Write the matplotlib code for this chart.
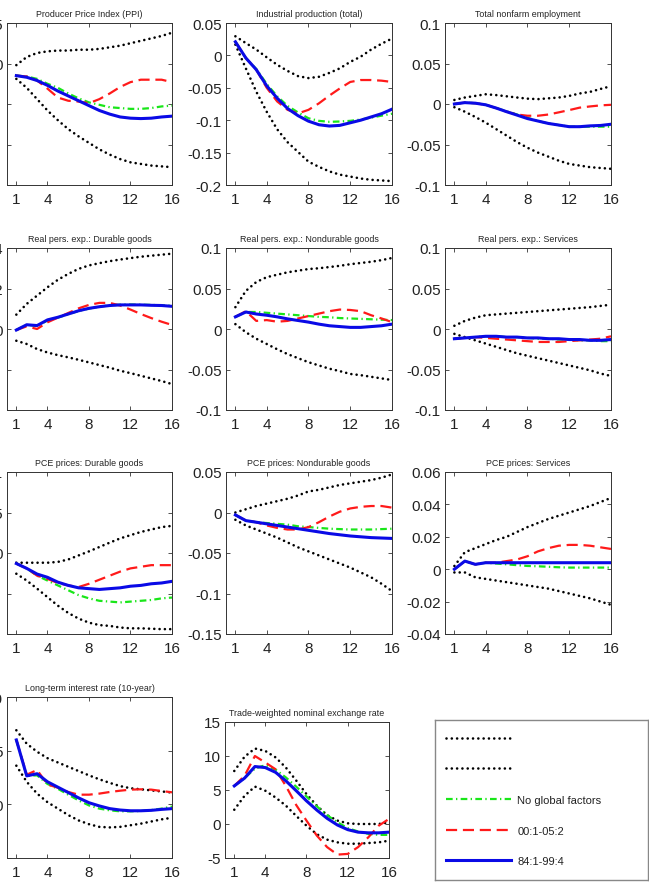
"""Impulse responses to a monetary shock: bands and three sample/model variants."""

import matplotlib
matplotlib.use("Agg")
import matplotlib.pyplot as plt
from matplotlib.ticker import FixedLocator, FixedFormatter

plt.rcParams["font.family"] = ["Liberation Sans", "DejaVu Sans"]
plt.rcParams["axes.unicode_minus"] = False

H = list(range(1, 17))
XTICKS = [1, 4, 8, 12, 16]

# Producer Price Index (PPI)
ppi_up = [-0.002, 0.008, 0.013, 0.015, 0.016, 0.016, 0.017, 0.017, 0.018, 0.020, 0.022, 0.025, 0.028, 0.031, 0.034, 0.038]
ppi_lo = [-0.019, -0.030, -0.044, -0.058, -0.070, -0.081, -0.090, -0.098, -0.106, -0.1125, -0.118, -0.122, -0.124, -0.126, -0.127, -0.128]
ppi_nogf = [-0.015, -0.016, -0.019, -0.025, -0.030, -0.037, -0.043, -0.048, -0.051, -0.054, -0.055, -0.056, -0.056, -0.055, -0.053, -0.052]
ppi_0005 = [-0.015, -0.016, -0.021, -0.031, -0.042, -0.046, -0.047, -0.049, -0.044, -0.037, -0.029, -0.023, -0.020, -0.020, -0.020, -0.023]
ppi_8499 = [-0.015, -0.017, -0.021, -0.027, -0.034, -0.040, -0.046, -0.052, -0.058, -0.0625, -0.066, -0.0675, -0.068, -0.0675, -0.066, -0.065]

# Industrial production (total)
ip_up = [0.0295, 0.019, 0.009, -0.003, -0.0145, -0.024, -0.032, -0.035, -0.033, -0.027, -0.020, -0.010, -0.002, 0.009, 0.018, 0.026]
ip_lo = [0.0166, -0.020, -0.056, -0.087, -0.114, -0.134, -0.149, -0.164, -0.172, -0.179, -0.184, -0.187, -0.190, -0.192, -0.193, -0.194]
ip_nogf = [0.021, -0.004, -0.021, -0.044, -0.063, -0.078, -0.088, -0.097, -0.101, -0.1025, -0.102, -0.101, -0.099, -0.096, -0.093, -0.090]
ip_0005 = [0.021, -0.004, -0.022, -0.050, -0.071, -0.084, -0.0895, -0.084, -0.074, -0.062, -0.051, -0.041, -0.038, -0.038, -0.039, -0.041]
ip_8499 = [0.021, -0.004, -0.022, -0.047, -0.066, -0.082, -0.093, -0.1015, -0.107, -0.109, -0.108, -0.104, -0.100, -0.095, -0.090, -0.083]

# Total nonfarm employment
emp_up = [0.005, 0.008, 0.010, 0.012, 0.011, 0.0095, 0.008, 0.0066, 0.006, 0.007, 0.008, 0.010, 0.013, 0.015, 0.0186, 0.022]
emp_lo = [-0.004, -0.0095, -0.016, -0.023, -0.031, -0.039, -0.047, -0.054, -0.060, -0.065, -0.070, -0.074, -0.076, -0.078, -0.079, -0.080]
emp_nogf = [0.0, 0.0017, 0.001, -0.001, -0.005, -0.009, -0.013, -0.017, -0.021, -0.024, -0.026, -0.028, -0.028, -0.028, -0.028, -0.028]
emp_0005 = [0.0, 0.0017, 0.001, -0.001, -0.005, -0.0095, -0.013, -0.0145, -0.0145, -0.013, -0.0103, -0.0075, -0.0045, -0.003, -0.0017, -0.001]
emp_8499 = [0.0, 0.0017, 0.001, -0.001, -0.005, -0.0095, -0.0137, -0.018, -0.021, -0.024, -0.026, -0.028, -0.028, -0.027, -0.0265, -0.025]

# Real pers. exp.: Durable goods
rdur_up = [0.0071, 0.0124, 0.0165, 0.0206, 0.0243, 0.0272, 0.0297, 0.0314, 0.0325, 0.0335, 0.0343, 0.035, 0.0357, 0.0362, 0.0367, 0.0372]
rdur_lo = [-0.0058, -0.0074, -0.0099, -0.0116, -0.0129, -0.014, -0.0152, -0.0165, -0.0178, -0.0191, -0.0206, -0.0218, -0.0231, -0.0244, -0.0257, -0.0272]
rdur_nogf = [-0.0005, 0.0021, 0.0015, 0.0042, 0.0056, 0.0073, 0.0089, 0.0101, 0.0110, 0.0117, 0.0120, 0.0121, 0.0120, 0.0119, 0.0117, 0.0115]
rdur_0005 = [-0.0005, 0.0013, 0.0, 0.0033, 0.0056, 0.0079, 0.0102, 0.0119, 0.0129, 0.0129, 0.0116, 0.0096, 0.0074, 0.0054, 0.0036, 0.002]
rdur_8499 = [-0.0005, 0.0021, 0.0017, 0.0045, 0.0058, 0.0074, 0.009, 0.0102, 0.011, 0.0116, 0.0119, 0.0119, 0.0119, 0.0117, 0.0116, 0.0112]

# Real pers. exp.: Nondurable goods
rnd_up = [0.027, 0.047, 0.058, 0.064, 0.067, 0.070, 0.072, 0.074, 0.075, 0.0765, 0.078, 0.080, 0.0815, 0.083, 0.085, 0.0877]
rnd_lo = [0.006, -0.004, -0.012, -0.0185, -0.025, -0.031, -0.036, -0.041, -0.045, -0.049, -0.052, -0.0555, -0.057, -0.059, -0.061, -0.063]
rnd_nogf = [0.015, 0.021, 0.021, 0.020, 0.019, 0.018, 0.017, 0.016, 0.015, 0.0145, 0.0135, 0.013, 0.0125, 0.012, 0.0115, 0.011]
rnd_0005 = [0.015, 0.022, 0.010, 0.011, 0.009, 0.010, 0.013, 0.016, 0.019, 0.022, 0.024, 0.0235, 0.022, 0.017, 0.013, 0.0085]
rnd_8499 = [0.015, 0.021, 0.0185, 0.017, 0.015, 0.0125, 0.0105, 0.0085, 0.006, 0.004, 0.003, 0.002, 0.002, 0.003, 0.004, 0.006]

# Real pers. exp.: Services
rsv_up = [0.004, 0.010, 0.014, 0.017, 0.018, 0.019, 0.020, 0.021, 0.022, 0.023, 0.024, 0.025, 0.026, 0.027, 0.0285, 0.030]
rsv_lo = [-0.006, -0.010, -0.014, -0.018, -0.022, -0.026, -0.030, -0.033, -0.036, -0.039, -0.042, -0.045, -0.048, -0.051, -0.055, -0.058]
rsv_nogf = [-0.012, -0.011, -0.010, -0.009, -0.009, -0.010, -0.010, -0.011, -0.012, -0.012, -0.013, -0.013, -0.014, -0.014, -0.015, -0.015]
rsv_0005 = [-0.012, -0.011, -0.010, -0.011, -0.012, -0.013, -0.014, -0.015, -0.016, -0.016, -0.016, -0.015, -0.014, -0.013, -0.012, -0.009]
rsv_8499 = [-0.012, -0.011, -0.010, -0.009, -0.009, -0.010, -0.010, -0.011, -0.011, -0.012, -0.012, -0.013, -0.013, -0.014, -0.014, -0.013]

# PCE prices: Durable goods
pdur_up = [-0.012, -0.012, -0.012, -0.012, -0.011, -0.008, -0.003, 0.002, 0.0074, 0.0128, 0.018, 0.022, 0.026, 0.029, 0.032, 0.0335]
pdur_lo = [-0.0256, -0.034, -0.044, -0.0545, -0.065, -0.074, -0.081, -0.086, -0.089, -0.090, -0.092, -0.093, -0.093, -0.0935, -0.094, -0.094]
pdur_nogf = [-0.013, -0.019, -0.028, -0.034, -0.040, -0.046, -0.052, -0.056, -0.059, -0.060, -0.061, -0.060, -0.059, -0.058, -0.056, -0.055]
pdur_0005 = [-0.013, -0.019, -0.028, -0.032, -0.037, -0.040, -0.042, -0.038, -0.033, -0.028, -0.023, -0.019, -0.017, -0.015, -0.015, -0.015]
pdur_8499 = [-0.013, -0.019, -0.026, -0.030, -0.036, -0.040, -0.043, -0.044, -0.045, -0.044, -0.043, -0.041, -0.040, -0.038, -0.037, -0.035]

# PCE prices: Nondurable goods
pnd_up = [0.0, 0.004, 0.008, 0.011, 0.014, 0.017, 0.021, 0.026, 0.028, 0.031, 0.034, 0.036, 0.038, 0.040, 0.043, 0.047]
pnd_lo = [-0.009, -0.016, -0.021, -0.026, -0.031, -0.037, -0.043, -0.048, -0.053, -0.058, -0.063, -0.068, -0.074, -0.080, -0.088, -0.097]
pnd_nogf = [-0.003, -0.010, -0.012, -0.013, -0.014, -0.015, -0.017, -0.018, -0.019, -0.020, -0.0205, -0.021, -0.021, -0.021, -0.0205, -0.020]
pnd_0005 = [-0.003, -0.010, -0.012, -0.016, -0.019, -0.021, -0.021, -0.018, -0.012, -0.005, 0.001, 0.005, 0.007, 0.008, 0.008, 0.006]
pnd_8499 = [-0.003, -0.010, -0.012, -0.014, -0.016, -0.018, -0.020, -0.022, -0.024, -0.026, -0.0275, -0.029, -0.030, -0.031, -0.0315, -0.032]

# PCE prices: Services
psv_up = [0.002, 0.0105, 0.013, 0.0155, 0.018, 0.020, 0.023, 0.026, 0.0285, 0.031, 0.033, 0.035, 0.037, 0.039, 0.0415, 0.044]
psv_lo = [-0.002, -0.002, -0.005, -0.006, -0.007, -0.008, -0.009, -0.010, -0.011, -0.012, -0.0135, -0.015, -0.0165, -0.018, -0.020, -0.022]
psv_nogf = [0.0, 0.005, 0.003, 0.004, 0.0035, 0.003, 0.0025, 0.002, 0.0018, 0.0015, 0.0012, 0.001, 0.001, 0.001, 0.001, 0.001]
psv_0005 = [0.0, 0.005, 0.003, 0.004, 0.004, 0.005, 0.006, 0.008, 0.011, 0.013, 0.0145, 0.015, 0.015, 0.0145, 0.0135, 0.0125]
psv_8499 = [0.0, 0.005, 0.003, 0.004, 0.004, 0.004, 0.004, 0.004, 0.004, 0.004, 0.004, 0.004, 0.004, 0.004, 0.004, 0.004]

# Long-term interest rate (10-year)
ltr_up = [6.9, 5.65, 4.9, 4.3, 3.9, 3.5, 3.1, 2.7, 2.33, 2.0, 1.7, 1.5, 1.4, 1.3, 1.2, 1.1]
ltr_lo = [3.6, 2.1, 1.0, 0.2, -0.4, -1.0, -1.5, -1.85, -2.1, -2.15, -2.1, -1.95, -1.8, -1.6, -1.4, -1.25]
ltr_nogf = [6.0, 2.65, 2.7, 1.9, 1.45, 0.9, 0.37, -0.1, -0.4, -0.56, -0.65, -0.65, -0.62, -0.53, -0.4, -0.2]
ltr_0005 = [6.0, 2.76, 3.2, 1.85, 1.55, 1.15, 0.9, 0.9, 1.0, 1.15, 1.27, 1.37, 1.4, 1.37, 1.24, 1.12]
ltr_8499 = [6.0, 2.65, 2.85, 2.1, 1.6, 1.1, 0.6, 0.15, -0.15, -0.4, -0.53, -0.6, -0.6, -0.56, -0.47, -0.4]

# Trade-weighted nominal exchange rate
fx_up = [7.8, 9.9, 11.1, 10.75, 9.8, 8.3, 6.4, 4.4, 2.7, 1.3, 0.5, 0.1, 0.0, 0.0, 0.0, 0.25]
fx_lo = [2.1, 4.15, 5.5, 4.9, 3.9, 2.7, 1.2, -0.25, -1.5, -2.3, -2.7, -2.9, -2.9, -2.8, -2.7, -2.45]
fx_nogf = [5.6, 6.75, 8.15, 8.65, 8.0, 6.85, 5.5, 4.05, 2.6, 1.3, 0.25, -0.6, -1.1, -1.45, -1.6, -1.6]
fx_0005 = [5.6, 7.1, 10.0, 9.05, 8.05, 5.6, 2.8, 0.5, -1.7, -3.4, -4.5, -4.4, -3.4, -1.95, -0.25, 0.75]
fx_8499 = [5.6, 6.75, 8.45, 8.3, 7.6, 6.35, 4.9, 3.4, 2.05, 0.83, -0.15, -0.83, -1.2, -1.3, -1.3, -1.2]

SERIES_LABELS = ["", "", "No global factors", "00:1-05:2", "84:1-99:4"]

# title, data, y ticks, y tick labels (None -> all), pixel box (left, top, w, h)
PANELS = [
    ("Producer Price Index (PPI)", (ppi_up, ppi_lo, ppi_nogf, ppi_0005, ppi_8499),
     [-0.15, -0.1, -0.05, 0, 0.05], ["", "", "", "0", "0.05"], (7, 24, 165, 162)),
    ("Industrial production (total)", (ip_up, ip_lo, ip_nogf, ip_0005, ip_8499),
     [-0.2, -0.15, -0.1, -0.05, 0, 0.05], None, (226, 24, 166, 162)),
    ("Total nonfarm employment", (emp_up, emp_lo, emp_nogf, emp_0005, emp_8499),
     [-0.1, -0.05, 0, 0.05, 0.1], None, (445, 24, 166, 162)),
    ("Real pers. exp.: Durable goods", (rdur_up, rdur_lo, rdur_nogf, rdur_0005, rdur_8499),
     [-0.04, -0.02, 0, 0.02, 0.04], ["", "", "0", "0.02", "0.04"], (7, 249, 165, 162)),
    ("Real pers. exp.: Nondurable goods", (rnd_up, rnd_lo, rnd_nogf, rnd_0005, rnd_8499),
     [-0.1, -0.05, 0, 0.05, 0.1], None, (226, 249, 166, 162)),
    ("Real pers. exp.: Services", (rsv_up, rsv_lo, rsv_nogf, rsv_0005, rsv_8499),
     [-0.1, -0.05, 0, 0.05, 0.1], None, (445, 249, 166, 162)),
    ("PCE prices: Durable goods", (pdur_up, pdur_lo, pdur_nogf, pdur_0005, pdur_8499),
     [-0.1, -0.05, 0, 0.05, 0.1], ["", "", "0", "0.05", "0.1"], (7, 473, 165, 162)),
    ("PCE prices: Nondurable goods", (pnd_up, pnd_lo, pnd_nogf, pnd_0005, pnd_8499),
     [-0.15, -0.1, -0.05, 0, 0.05], None, (226, 473, 166, 162)),
    ("PCE prices: Services", (psv_up, psv_lo, psv_nogf, psv_0005, psv_8499),
     [-0.04, -0.02, 0, 0.02, 0.04, 0.06], None, (445, 473, 166, 162)),
    ("Long-term interest rate (10-year)", (ltr_up, ltr_lo, ltr_nogf, ltr_0005, ltr_8499),
     [-5, 0, 5, 10], ["", "0", "5", "10"], (7, 698, 165, 161)),
    ("Trade-weighted nominal exchange rate", (fx_up, fx_lo, fx_nogf, fx_0005, fx_8499),
     [-5, 0, 5, 10, 15], None, (225, 723, 164, 136)),
]

STYLES = [
    dict(color="black", lw=1.9, linestyle=(0, (0.01, 2.0)), dash_capstyle="round"),
    dict(color="black", lw=1.9, linestyle=(0, (0.01, 2.0)), dash_capstyle="round"),
    dict(color="#19e619", lw=1.6, linestyle=(0, (3.0, 1.5, 0.6, 1.5))),
    dict(color="#ff1a1a", lw=1.6, linestyle=(0, (5.0, 2.6))),
    dict(color="#0a0ae6", lw=2.2, linestyle="-"),
]

W, HGT = 649, 895
fig = plt.figure(figsize=(W / 100, HGT / 100), dpi=100)


def _fmt(v):
    return f"{v:g}"


handles = []
for title, data, yticks, ylabels, (left, top, w, h) in PANELS:
    ax = fig.add_axes([left / W, 1 - (top + h) / HGT, w / W, h / HGT])
    lines = []
    for ys, st in zip(data, STYLES):
        (ln,) = ax.plot(H, ys, **st)
        lines.append(ln)
    if not handles:
        handles = lines
    ax.set_xlim(0.1, 16)
    ax.set_ylim(yticks[0], yticks[-1])
    ax.set_xticks(XTICKS)
    ax.yaxis.set_major_locator(FixedLocator(yticks))
    labels = ylabels if ylabels is not None else [_fmt(v) for v in yticks]
    ax.yaxis.set_major_formatter(FixedFormatter(labels))
    ax.tick_params(direction="in", length=3, width=0.6, top=True, right=True,
                   labelsize=11, colors="#333333", labelcolor="#222222", pad=3)
    ax.tick_params(axis="x", pad=5)
    for sp in ax.spines.values():
        sp.set_linewidth(0.7)
        sp.set_color("#333333")
    ax.set_title(title, fontsize=6.4, color="#222222", pad=5)

# legend box
lax = fig.add_axes([435 / W, 1 - 881 / HGT, 213 / W, 160 / HGT])
lax.set_xticks([])
lax.set_yticks([])
for sp in lax.spines.values():
    sp.set_linewidth(1.0)
    sp.set_color("#888888")
lax.legend(handles, SERIES_LABELS, loc="center left", bbox_to_anchor=(0, 0.5),
           frameon=False, fontsize=8, handlelength=5.8, handletextpad=0.6,
           labelspacing=1.86, borderaxespad=0, borderpad=1.0, labelcolor="#222222")

fig.savefig("out.png", dpi=100)
